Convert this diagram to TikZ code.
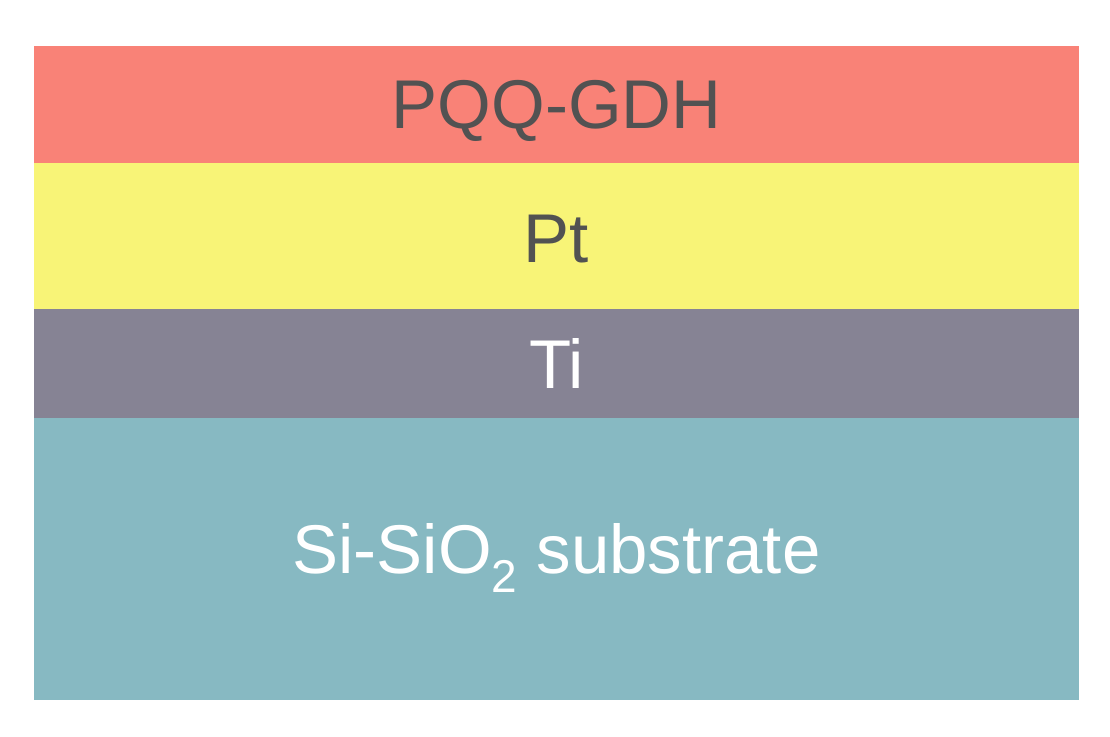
\documentclass[tikz,border=0pt]{standalone}
\usepackage{fontspec}
\setmainfont{Liberation Sans}
\usepackage{xcolor}
\definecolor{enzyme}{HTML}{F98277}
\definecolor{platinum}{HTML}{F8F477}
\definecolor{titanium}{HTML}{868394}
\definecolor{substrate}{HTML}{87B9C2}
\definecolor{darktext}{HTML}{525252}
\tikzset{
  layerlabel/.style={anchor=base, inner sep=0pt, font=\fontsize{69}{80}\selectfont},
}

\begin{document}
\begin{tikzpicture}[x=1pt, y=-1pt]
    \useasboundingbox (0,0) rectangle (1110,736);
    % Draw the stacked layers, top to bottom
    \foreach \top/\bot/\col in {46/163/enzyme, 163/309/platinum, 309/418/titanium, 418/700/substrate} {
        \fill[\col] (34,\top) rectangle (1079,\bot);
    }

    % Layer names
    \node[layerlabel, darktext] (gdh) at (556.5,128) {PQQ-GDH};
    \node[layerlabel, darktext] (pt) at (556.5,262) {Pt};
    \node[layerlabel, white] (ti) at (556.5,388) {Ti};
    \node[layerlabel, white] (sub) at (556.5,573) {Si-SiO\raisebox{-19pt}{\fontsize{46}{50}\selectfont 2} substrate};

\end{tikzpicture}
\end{document}
